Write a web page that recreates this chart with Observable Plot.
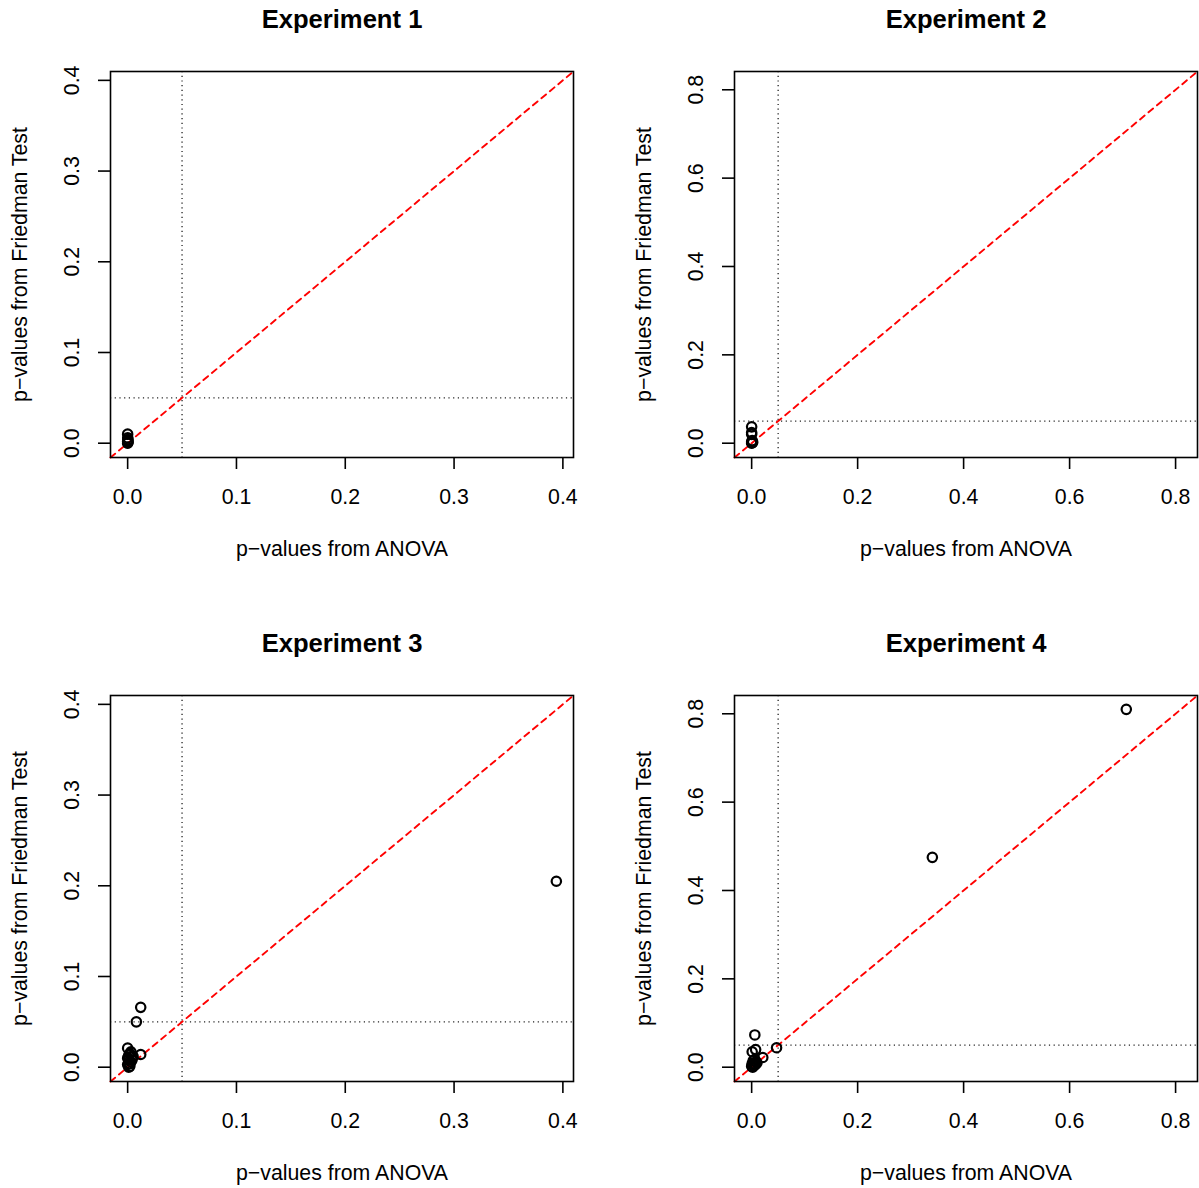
<!DOCTYPE html>
<html>
<head>
<meta charset="utf-8">
<script src="https://cdn.jsdelivr.net/npm/d3@7"></script>
<script src="https://cdn.jsdelivr.net/npm/@observablehq/plot@0.6"></script>
<style>
  body { margin: 0; background: #fff; }
  #root { position: relative; width: 1199px; height: 1188px; overflow: hidden; background: #fff; }
  .panel { position: absolute; }
</style>
</head>
<body>
<div id="root"></div>
<script>
// ---- data ----
const titles = ["Experiment 1", "Experiment 2", "Experiment 3", "Experiment 4"];
const xLabel = "p−values from ANOVA";
const yLabel = "p−values from Friedman Test";

const exp1Anova    = [0.0000, 0.0001, 0.0002, 0.0000, 0.0003, 0.0001, 0.0000, 0.0002];
const exp1Friedman = [0.0100, 0.0060, 0.0040, 0.0020, 0.0010, 0.0005, 0.0000, 0.0030];

const exp2Anova    = [0.000, 0.000, 0.000, 0.001, 0.000, 0.002, 0.000, 0.001];
const exp2Friedman = [0.037, 0.024, 0.020, 0.006, 0.003, 0.002, 0.000, 0.001];

const exp3Anova    = [0.394, 0.012, 0.008, 0.012, 0.000, 0.002, 0.004, 0.001, 0.003, 0.000, 0.002, 0.001, 0.005, 0.003, 0.000, 0.002, 0.004, 0.001];
const exp3Friedman = [0.205, 0.066, 0.050, 0.014, 0.021, 0.015, 0.011, 0.008, 0.006, 0.003, 0.001, 0.000, 0.012, 0.017, 0.010, 0.004, 0.008, 0.013];

const exp4Anova    = [0.707, 0.341, 0.006, 0.001, 0.0075, 0.021, 0.047, 0.003, 0.008, 0.001, 0.005, 0.000, 0.002, 0.010, 0.006, 0.004, 0.007];
const exp4Friedman = [0.810, 0.475, 0.073, 0.035, 0.040, 0.022, 0.044, 0.015, 0.012, 0.008, 0.005, 0.002, 0.000, 0.010, 0.018, 0.003, 0.006];

const ticksSmall = [0, 0.1, 0.2, 0.3, 0.4];
const ticksLarge = [0, 0.2, 0.4, 0.6, 0.8];
const rangeSmall = [0, 0.394];
const rangeLarge = [0, 0.809];
const threshold = [0.05];

// ---- layout ----
const FONT = "'Liberation Sans', Arial, Helvetica, sans-serif";
const fmt = d3.format(".1f");

function makePanel(title, xs, ys, ticks, range) {
  const pad = 0.04 * (range[1] - range[0]);
  const domain = [range[0] - pad, range[1] + pad];
  const data = xs.map((x, i) => ({x, y: ys[i]}));
  return Plot.plot({
    width: 575,
    height: 564,
    marginLeft: 110,
    marginRight: 2,
    marginTop: 71,
    marginBottom: 107,
    x: {domain},
    y: {domain},
    style: {fontFamily: FONT, fontSize: "21.3px", color: "black", background: "white", overflow: "visible"},
    marks: [
      Plot.ruleX(threshold, {x: d => d, stroke: "#222", strokeDasharray: "1.2,3.5", strokeWidth: 1.3}),
      Plot.ruleY(threshold, {y: d => d, stroke: "#222", strokeDasharray: "1.2,3.5", strokeWidth: 1.3}),
      Plot.line(domain, {x: d => d, y: d => d, stroke: "#ff0000", strokeDasharray: "6,5", strokeWidth: 1.9}),
      Plot.dot(data, {x: "x", y: "y", r: 4.7, stroke: "black", strokeWidth: 2.2, fill: "none"}),
      Plot.frame({stroke: "black", strokeWidth: 1.6}),
      Plot.axisX({ticks, tickSize: 12, tickPadding: 19, tickFormat: fmt, label: null, strokeWidth: 1.6}),
      Plot.axisY({ticks, tickSize: 12, tickFormat: () => "", label: null, strokeWidth: 1.6}),
      Plot.text(ticks, {y: d => d, frameAnchor: "left", dx: -38, rotate: -90, text: d => fmt(d),
                        textAnchor: "middle", lineAnchor: "middle", fontSize: 21.3}),
      Plot.text([yLabel], {frameAnchor: "left", dx: -90, rotate: -90, textAnchor: "middle",
                           lineAnchor: "middle", fontSize: 21.3}),
      Plot.text([xLabel], {frameAnchor: "bottom", dy: 92, textAnchor: "middle", lineAnchor: "middle", fontSize: 21.3}),
      Plot.text([title], {frameAnchor: "top", dy: -52, textAnchor: "middle", lineAnchor: "middle",
                          fontWeight: "bold", fontSize: 25.6})
    ]
  });
}

const panels = [
  {title: titles[0], xs: exp1Anova, ys: exp1Friedman, ticks: ticksSmall, range: rangeSmall, left: 0, top: 0},
  {title: titles[1], xs: exp2Anova, ys: exp2Friedman, ticks: ticksLarge, range: rangeLarge, left: 624, top: 0},
  {title: titles[2], xs: exp3Anova, ys: exp3Friedman, ticks: ticksSmall, range: rangeSmall, left: 0, top: 624},
  {title: titles[3], xs: exp4Anova, ys: exp4Friedman, ticks: ticksLarge, range: rangeLarge, left: 624, top: 624}
];

const root = document.getElementById("root");
for (const p of panels) {
  const div = document.createElement("div");
  div.className = "panel";
  div.style.left = p.left + "px";
  div.style.top = p.top + "px";
  div.appendChild(makePanel(p.title, p.xs, p.ys, p.ticks, p.range));
  root.appendChild(div);
}
</script>
</body>
</html>
